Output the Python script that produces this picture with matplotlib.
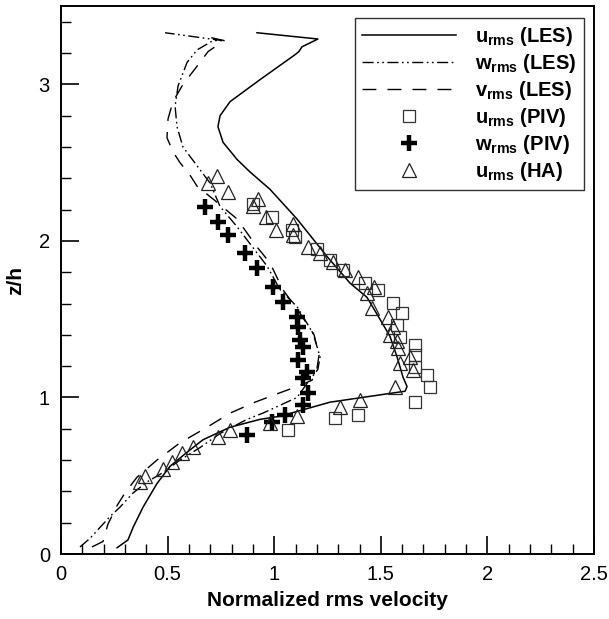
import matplotlib
matplotlib.use("Agg")
import matplotlib.pyplot as plt
from matplotlib.ticker import MultipleLocator

plt.rcParams['font.family'] = ['Liberation Sans', 'DejaVu Sans']
plt.rcParams['mathtext.fontset'] = 'custom'
plt.rcParams['mathtext.rm'] = 'Liberation Sans'
plt.rcParams['mathtext.bf'] = 'Liberation Sans:bold'

# LES profiles (x = normalized rms velocity, z = z/h)
u_les_x = [0.263, 0.314, 0.338, 0.385, 0.450, 0.511, 0.591, 0.666, 0.793, 0.933, 1.027,
           1.262, 1.614, 1.623, 1.604, 1.576, 1.543, 1.496, 1.435, 1.356, 1.248, 1.107,
           0.980, 0.887, 0.826, 0.760, 0.736, 0.746, 0.793, 0.933, 1.098, 1.116, 1.130,
           1.205, 0.919]
u_les_z = [0.04, 0.09, 0.17, 0.30, 0.45, 0.56, 0.65, 0.73, 0.81, 0.86, 0.88,
           0.97, 1.04, 1.07, 1.13, 1.26, 1.39, 1.50, 1.64, 1.73, 1.90, 2.14,
           2.33, 2.44, 2.52, 2.63, 2.73, 2.80, 2.89, 3.03, 3.19, 3.21, 3.24,
           3.29, 3.33]

w_les_x = [0.089, 0.136, 0.183, 0.230, 0.277, 0.338, 0.403, 0.478, 0.558, 0.652, 0.746,
           0.872, 0.947, 1.027, 1.107, 1.154, 1.177, 1.205, 1.215, 1.182, 1.107, 1.027,
           0.966, 0.826, 0.746, 0.699, 0.638, 0.572, 0.544, 0.535, 0.549, 0.591, 0.638,
           0.713, 0.755, 0.488]
w_les_z = [0.045, 0.10, 0.17, 0.24, 0.30, 0.39, 0.46, 0.52, 0.60, 0.68, 0.77,
           0.86, 0.90, 0.95, 1.00, 1.09, 1.13, 1.18, 1.26, 1.41, 1.58, 1.69,
           1.84, 2.09, 2.22, 2.37, 2.48, 2.60, 2.73, 2.86, 2.99, 3.14, 3.22,
           3.28, 3.28, 3.33]

v_les_x = [0.145, 0.197, 0.220, 0.263, 0.300, 0.356, 0.450, 0.558, 0.685, 0.793, 0.910,
           1.027, 1.107, 1.177, 1.200, 1.210, 1.187, 1.120, 1.040, 0.980, 0.920, 0.826,
           0.720, 0.638, 0.605, 0.558, 0.525, 0.497, 0.502, 0.525, 0.572, 0.629, 0.690,
           0.765, 0.699]
v_les_z = [0.045, 0.08, 0.19, 0.31, 0.39, 0.49, 0.60, 0.71, 0.81, 0.90, 0.97,
           1.03, 1.07, 1.11, 1.18, 1.27, 1.40, 1.54, 1.69, 1.86, 1.96, 2.14,
           2.26, 2.35, 2.42, 2.50, 2.57, 2.66, 2.78, 2.89, 3.00, 3.10, 3.21,
           3.28, 3.30]

# PIV / HA measurements
u_piv_x = [0.901, 0.990, 1.083, 1.098, 1.201, 1.262, 1.323, 1.426, 1.487, 1.557, 1.599,
           1.576, 1.590, 1.660, 1.660, 1.660, 1.717, 1.731, 1.660, 1.393, 1.285, 1.065]
u_piv_z = [2.233, 2.150, 2.073, 2.022, 1.951, 1.881, 1.817, 1.734, 1.689, 1.606, 1.542,
           1.465, 1.388, 1.337, 1.273, 1.196, 1.145, 1.068, 0.972, 0.889, 0.870, 0.793]

w_piv_x = [0.675, 0.736, 0.783, 0.863, 0.919, 0.994, 1.041, 1.107, 1.112, 1.121, 1.135,
           1.112, 1.154, 1.135, 1.158, 1.135, 1.051, 0.990, 0.872]
w_piv_z = [2.214, 2.124, 2.041, 1.926, 1.830, 1.708, 1.612, 1.516, 1.452, 1.369, 1.324,
           1.241, 1.164, 1.126, 1.030, 0.953, 0.889, 0.845, 0.761]

u_ha_x = [0.732, 0.690, 0.783, 0.924, 0.901, 0.962, 1.008, 1.088, 1.088, 1.159, 1.215,
          1.276, 1.332, 1.393, 1.468, 1.435, 1.459, 1.534, 1.557, 1.543, 1.576, 1.581,
          1.637, 1.590, 1.651, 1.567, 1.402, 1.309, 1.107, 0.980, 0.793, 0.736, 0.619,
          0.568, 0.521, 0.478, 0.394, 0.371]
u_ha_z = [2.412, 2.367, 2.310, 2.265, 2.220, 2.156, 2.067, 2.111, 2.035, 1.964, 1.926,
          1.868, 1.817, 1.772, 1.708, 1.670, 1.574, 1.516, 1.452, 1.401, 1.363, 1.318,
          1.260, 1.222, 1.177, 1.068, 0.985, 0.940, 0.883, 0.838, 0.793, 0.749, 0.685,
          0.646, 0.589, 0.544, 0.499, 0.461]

xticks = [0, 0.5, 1, 1.5, 2, 2.5]
xtick_labels = ['0', '0.5', '1', '1.5', '2', '2.5']
yticks = [0, 1, 2, 3]
ytick_labels = ['0', '1', '2', '3']

fig = plt.figure(figsize=(6.09, 6.19), dpi=100)
ax = fig.add_axes([0.1002, 0.105, 0.8752, 0.8851])

ax.plot(u_les_x, u_les_z, color='black', lw=1.1, label=r'$\mathbf{u_{rms}}$ (LES)')
ax.plot(w_les_x, w_les_z, color='black', lw=1.0, dashes=(8, 2.5, 1.2, 2.5, 1.2, 2.5),
        label=r'$\mathbf{w_{rms}}$ (LES)')
ax.plot(v_les_x, v_les_z, color='black', lw=1.0, dashes=(10, 8),
        label=r'$\mathbf{v_{rms}}$ (LES)')
ax.plot(u_piv_x, u_piv_z, ls='none', marker='s', ms=9, mfc='none', mec='#333333',
        mew=0.9, label=r'$\mathbf{u_{rms}}$ (PIV)')
ax.plot(w_piv_x, w_piv_z, ls='none', marker='+', ms=12, mec='black', mew=3.2,
        label=r'$\mathbf{w_{rms}}$ (PIV)')
ax.plot(u_ha_x, u_ha_z, ls='none', marker='^', ms=10, mfc='none', mec='#222222',
        mew=0.9, label=r'$\mathbf{u_{rms}}$ (HA)')

ax.set_xlim(0, 2.5)
ax.set_ylim(0, 3.5)
ax.set_xticks(xticks)
ax.set_xticklabels(xtick_labels)
ax.set_yticks(yticks)
ax.set_yticklabels(ytick_labels)
ax.xaxis.set_minor_locator(MultipleLocator(0.1))
ax.yaxis.set_minor_locator(MultipleLocator(0.2))
ax.tick_params(which='major', direction='in', length=13, width=1.2, labelsize=14.5, pad=8)
ax.tick_params(which='minor', direction='in', length=7, width=1.0)
for s in ax.spines.values():
    s.set_linewidth(1.4)

ax.set_xlabel('Normalized rms velocity', fontsize=15, fontweight='bold', labelpad=5)
ax.set_ylabel('z/h', fontsize=15, fontweight='bold', labelpad=10)

leg = ax.legend(loc='upper right', bbox_to_anchor=(0.981, 0.978), borderaxespad=0,
                fancybox=False, edgecolor='#333333', framealpha=1, numpoints=1,
                handlelength=4.7, handletextpad=0.95, labelspacing=0.2,
                borderpad=0.35, prop={'size': 14.5, 'weight': 'bold'})
leg.get_frame().set_linewidth(1.0)

fig.savefig('out.png', dpi=100)
